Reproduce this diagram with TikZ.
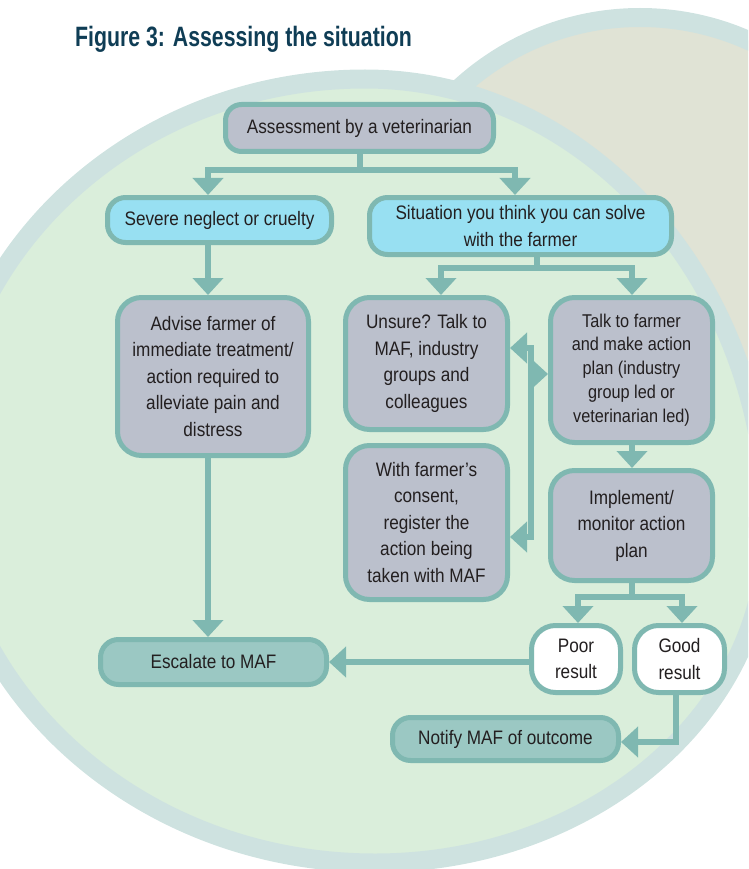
\documentclass[tikz,border=0pt]{standalone}
\usepackage{fontspec}
\setmainfont{Liberation Sans}[FakeStretch=0.88]
\newfontfamily\titlefont{Liberation Sans}[FakeStretch=0.76]
\usetikzlibrary{arrows.meta}
\definecolor{edge}{HTML}{7FB8B1}
\definecolor{greyfill}{HTML}{BBC0CC}
\definecolor{cyanfill}{HTML}{98E0F2}
\definecolor{mafill}{HTML}{9BC8C3}
\definecolor{bggreen}{HTML}{DAEEDB}
\definecolor{band}{HTML}{CEE2E0}
\definecolor{beige}{HTML}{E0E3D5}
\definecolor{titlec}{HTML}{0F3D55}
\definecolor{ink}{HTML}{231F20}
\begin{document}
\begin{tikzpicture}[x=1pt,y=-1pt,
  box/.style={draw=edge, line width=5pt, rounded corners=#1, inner sep=0pt,
    align=center, text=ink, font=\fontsize{19.5}{26.5}\selectfont},
  box/.default=22pt,
  greybox/.style={box=24pt, fill=greyfill},
  cyanbox/.style={box=18pt, fill=cyanfill},
  mafbox/.style={box=18pt, fill=mafill},
  resbox/.style={box=24pt, fill=white},
  conn/.style={draw=edge, line width=6pt},
  arr/.style={conn, -{Triangle[width=30pt,length=17pt]}}]
\useasboundingbox (0,0) rectangle (748,869);
\clip (0,0) rectangle (748,869);
% background shapes
\draw[band, line width=19pt, fill=beige] (640,284) circle [radius=266.5pt];
\draw[band, line width=19pt, fill=bggreen]
  (365,79) .. controls (587,79) and (767,280.9) .. (767,530)
  .. controls (767,713.9) and (591.5,863) .. (375,863)
  .. controls (137,863) and (-56,687.5) .. (-56,471)
  .. controls (-56,254.5) and (132.5,79) .. (365,79) -- cycle;
% title
\node[anchor=base west, inner sep=0pt, text=titlec, font=\titlefont\bfseries\fontsize{28}{32}\selectfont] (title) at (75,47) {Figure 3: Assessing the situation};
% nodes
\node[box=16pt, fill=greyfill, minimum width=268pt, minimum height=47pt] (assess) at (359.5,128) {Assessment by a veterinarian};
\node[cyanbox, minimum width=224pt, minimum height=45pt] (sev) at (219.5,220) {Severe neglect or cruelty};
\node[cyanbox, minimum width=302pt, minimum height=57pt] (sit) at (520.5,226) {Situation you think you can solve\\with the farmer};
\node[greybox, minimum width=191pt, minimum height=158pt] (advise) at (213,376.5) {Advise farmer of\\immediate treatment/\\action required to\\alleviate pain and\\distress};
\node[greybox, minimum width=162pt, minimum height=132pt] (unsure) at (426.5,363.5) {Unsure? Talk to\\MAF, industry\\groups and\\colleagues};
\node[greybox, minimum width=162pt, minimum height=145pt, font=\fontsize{18.5}{23.8}\selectfont] (talk) at (631.5,370) {Talk to farmer\\and make action\\plan (industry\\group led or\\veterinarian led)};
\node[greybox, minimum width=162pt, minimum height=154pt] (consent) at (426.5,522.5) {With farmer’s\\consent,\\register the\\action being\\taken with MAF};
\node[greybox, minimum width=162pt, minimum height=110pt] (impl) at (631.5,525.5) {Implement/\\monitor action\\plan};
\node[resbox, minimum width=89pt, minimum height=67pt] (poor) at (576,659) {Poor\\result};
\node[resbox, minimum width=90pt, minimum height=67pt] (good) at (679.5,659) {Good\\result};
\node[mafbox, minimum width=226pt, minimum height=45pt] (esc) at (213.5,662) {Escalate to MAF};
\node[mafbox, minimum width=226pt, minimum height=43pt] (notify) at (505.5,739) {Notify MAF of outcome};
% junction coordinates
\coordinate (t1L) at (208,170);
\coordinate (t1R) at (515,170);
\coordinate (t2L) at (441,268);
\coordinate (t2R) at (632,268);
\coordinate (s2) at (537,268);
\coordinate (t3L) at (578,597);
\coordinate (t3R) at (682,597);
\coordinate (v1) at (531,348);
\coordinate (v2) at (531,537);
\coordinate (v3) at (531,374);
\coordinate (gN) at (676,742);
% connectors
\draw[arr] (assess.south) |- (t1L) -- (t1L |- sev.north);
\draw[arr] (assess.south) |- (t1R) -- (t1R |- sit.north);
\draw[arr] (t1L |- sev.south) -- (t1L |- advise.north);
\draw[arr] (t1L |- advise.south) -- (t1L |- esc.north);
\draw[arr] (s2 |- sit.south) |- (t2L) -- (t2L |- unsure.north);
\draw[arr] (s2 |- sit.south) |- (t2R) -- (t2R |- talk.north);
\draw[arr] (t2R |- talk.south) -- (t2R |- impl.north);
\draw[arr] (v2) -- (v1) -- (v1 -| unsure.east);
\draw[arr] (v1) -- (v2) -- (v2 -| consent.east);
\draw[arr] (v3) -- (v3 -| talk.west);
\draw[arr] (impl.south) |- (t3L) -- (t3L |- poor.north);
\draw[arr] (impl.south) |- (t3R) -- (t3R |- good.north);
\draw[arr] (esc.east -| poor.west) -- (esc.east);
\draw[arr] (gN |- good.south) |- (gN -| notify.east);
\end{tikzpicture}
\end{document}
